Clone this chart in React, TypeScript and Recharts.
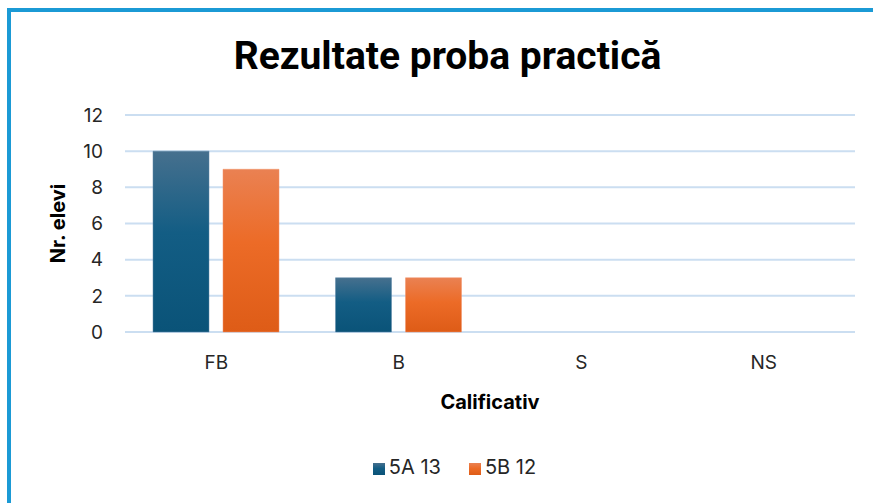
import React from "react";
import { BarChart, Bar, XAxis, YAxis, CartesianGrid, Legend, Label } from "recharts";

const categories = ["FB", "B", "S", "NS"];
const clasa5A = [10, 3, 0, 0];
const clasa5B = [9, 3, 0, 0];
const yTicks = [0, 2, 4, 6, 8, 10, 12];

const data = categories.map((name, i) => ({
  name,
  "5A 13": clasa5A[i],
  "5B 12": clasa5B[i],
}));

const font = "Inter, 'Noto Sans', sans-serif";
const tickStyle = { fontFamily: font, fontSize: 19, fill: "#262626" };

const App: React.FC = () => {
  return (
    <div style={{ position: "absolute", left: 0, top: 0, width: 873, height: 503, background: "#fff" }}>
      <div
        style={{
          position: "absolute",
          left: 7,
          top: 8,
          right: 0,
          bottom: 0,
          borderLeft: "4px solid #1b9ad5",
          borderTop: "4px solid #1b9ad5",
        }}
      />
      <div
        style={{
          position: "absolute",
          left: 20,
          width: 855,
          top: 33,
          textAlign: "center",
          fontFamily: "Roboto, 'Noto Sans', sans-serif",
          fontWeight: 700,
          fontSize: 39,
          lineHeight: "46px",
          color: "#000",
        }}
      >
        Rezultate proba practică
      </div>
      <div style={{ position: "absolute", left: 0, top: 0 }}>
        <BarChart
          width={873}
          height={503}
          data={data}
          margin={{ top: 115, right: 18, bottom: 24, left: 0 }}
          barSize={56}
          barGap={14}
        >
          <defs>
            <linearGradient id="gradA" x1="0" y1="0" x2="0" y2="1">
              <stop offset="0%" stopColor="#46708e" />
              <stop offset="45%" stopColor="#135d84" />
              <stop offset="100%" stopColor="#0a5378" />
            </linearGradient>
            <linearGradient id="gradB" x1="0" y1="0" x2="0" y2="1">
              <stop offset="0%" stopColor="#ea8152" />
              <stop offset="45%" stopColor="#ec6b27" />
              <stop offset="100%" stopColor="#de5c17" />
            </linearGradient>
          </defs>
          <CartesianGrid vertical={false} stroke="#cbdef1" strokeWidth={2} />
          <XAxis
            dataKey="name"
            axisLine={false}
            tickLine={false}
            tick={tickStyle}
            tickMargin={18}
            height={123}
          >
            <Label
              value="Calificativ"
              position="insideTop"
              offset={63}
              style={{ fontFamily: font, fontSize: 20, fontWeight: 700, fill: "#000" }}
            />
          </XAxis>
          <YAxis
            domain={[0, 12]}
            ticks={yTicks}
            axisLine={false}
            tickLine={false}
            tick={tickStyle}
            tickMargin={16}
            width={125}
            interval={0}
          >
            <Label
              value="Nr. elevi"
              angle={-90}
              position="insideLeft"
              offset={58}
              style={{
                textAnchor: "middle",
                fontFamily: font,
                fontSize: 20,
                fontWeight: 700,
                fill: "#000",
              }}
            />
          </YAxis>
          <Legend
            verticalAlign="bottom"
            iconType="square"
            iconSize={12}
            wrapperStyle={{ fontFamily: font, fontSize: 20, left: 67, width: 803 }}
            formatter={(value: string) => (
              <span style={{ color: "#262626", paddingRight: 18 }}>{value}</span>
            )}
          />
          <Bar dataKey="5A 13" fill="url(#gradA)" stroke="#5d87a6" strokeWidth={0.5} isAnimationActive={false} />
          <Bar dataKey="5B 12" fill="url(#gradB)" stroke="#f0936a" strokeWidth={0.5} isAnimationActive={false} />
        </BarChart>
      </div>
    </div>
  );
};

export default App;
